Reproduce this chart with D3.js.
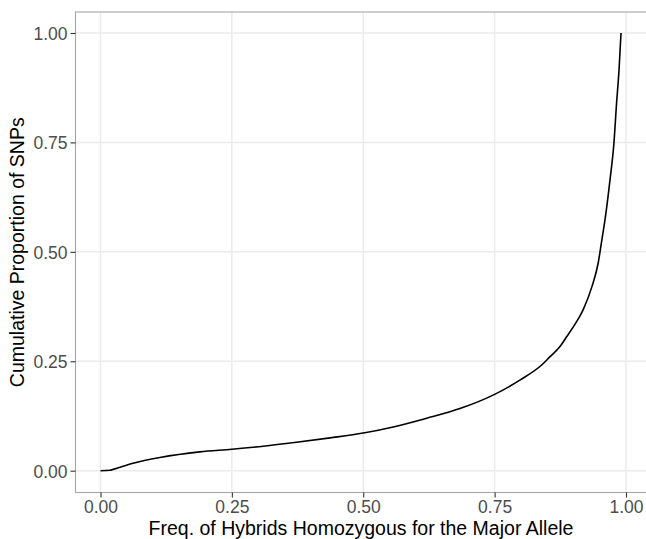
<!DOCTYPE html>
<html><head><meta charset="utf-8">
<script src="https://cdn.jsdelivr.net/npm/d3@7"></script>
<style>body{margin:0;background:#fff}svg{display:block}</style>
</head><body>
<svg id="c" width="646" height="539"></svg>
<script>
const freqHom = [0, 0.018, 0.024, 0.062, 0.113, 0.189, 0.25, 0.31, 0.373, 0.437, 0.50, 0.557, 0.621, 0.684, 0.751, 0.798, 0.84, 0.855, 0.874, 0.887, 0.90, 0.919, 0.935, 0.947, 0.954, 0.96, 0.9695, 0.977, 0.982, 0.9867, 0.9905];
const cumProp = [0, 0.001, 0.003, 0.017, 0.030, 0.043, 0.049, 0.056, 0.065, 0.075, 0.086, 0.100, 0.120, 0.142, 0.175, 0.207, 0.242, 0.260, 0.283, 0.306, 0.329, 0.369, 0.420, 0.474, 0.527, 0.573, 0.664, 0.748, 0.839, 0.915, 1.0];
const xTicks = [0, 0.25, 0.5, 0.75, 1];
const yTicks = [0, 0.25, 0.5, 0.75, 1];
const xTitle = "Freq. of Hybrids Homozygous for the Major Allele";
const yTitle = "Cumulative Proportion of SNPs";

const svg = d3.select("#c");
const font = "'Liberation Sans', Arial, Helvetica, sans-serif";
const x = d3.scaleLinear().domain([0, 1]).range([100.5, 626]);
const y = d3.scaleLinear().domain([0, 1]).range([470.7, 33]);
const P = {l: 75.5, t: 12, r: 660, b: 492.5};

// grid
svg.append("g").selectAll("line").data(xTicks).join("line")
  .attr("x1", d => x(d)).attr("x2", d => x(d)).attr("y1", P.t).attr("y2", P.b)
  .attr("stroke", "#EBEBEB").attr("stroke-width", 1.5);
svg.append("g").selectAll("line").data(yTicks).join("line")
  .attr("y1", d => y(d)).attr("y2", d => y(d)).attr("x1", P.l).attr("x2", P.r)
  .attr("stroke", "#EBEBEB").attr("stroke-width", 1.5);

// line
svg.append("path").datum(d3.zip(freqHom, cumProp))
  .attr("d", d3.line().x(d => x(d[0])).y(d => y(d[1])).curve(d3.curveMonotoneX))
  .attr("fill", "none").attr("stroke", "#000").attr("stroke-width", 1.6);

// border
svg.append("rect").attr("x", P.l).attr("y", P.t).attr("width", P.r - P.l).attr("height", P.b - P.t)
  .attr("fill", "none").attr("stroke", "#A6A6A6").attr("stroke-width", 1.1);

// axes
const xa = svg.append("g").attr("transform", `translate(0,${P.b})`)
  .call(d3.axisBottom(x).tickValues(xTicks).tickFormat(d3.format(".2f")).tickSizeInner(5).tickSizeOuter(0).tickPadding(3));
const ya = svg.append("g").attr("transform", `translate(${P.l},0)`)
  .call(d3.axisLeft(y).tickValues(yTicks).tickFormat(d3.format(".2f")).tickSizeInner(5).tickSizeOuter(0).tickPadding(3));
[xa, ya].forEach(a => {
  a.select(".domain").remove();
  a.selectAll(".tick line").attr("stroke", "#333").attr("stroke-width", 1.1);
  a.selectAll(".tick text").attr("fill", "#4D4D4D").style("font-family", font).style("font-size", "17.5px");
});
xa.selectAll(".tick text").attr("dy", null).attr("y", 20.5);
ya.selectAll(".tick text").attr("dy", "0.36em");

svg.append("text").attr("x", (P.l + 646.5) / 2).attr("y", 535).attr("text-anchor", "middle")
  .style("font-family", font).style("font-size", "19.5px").attr("fill", "#000").text(xTitle);
svg.append("text").attr("transform", `translate(23.5,${(P.t + P.b) / 2}) rotate(-90)`).attr("text-anchor", "middle")
  .style("font-family", font).style("font-size", "19.5px").attr("fill", "#000").text(yTitle);
</script>
</body></html>
